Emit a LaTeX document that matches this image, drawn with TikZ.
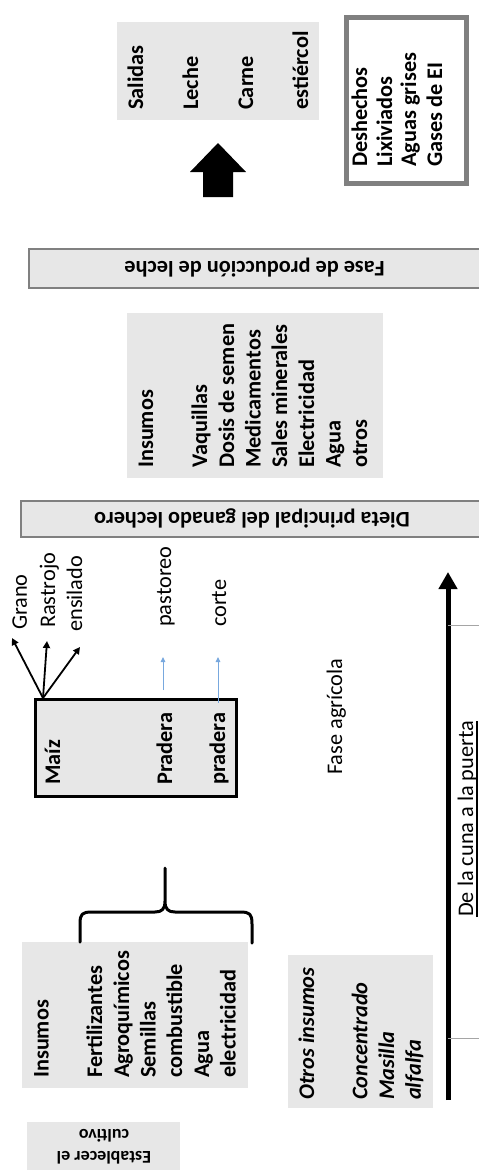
\documentclass[tikz,border=0pt]{standalone}
\usepackage{fontspec}
\setmainfont{Carlito}
\usetikzlibrary{arrows.meta}
\definecolor{boxgray}{RGB}{231,231,231}
\definecolor{edgegray}{RGB}{128,128,128}
\definecolor{paleblue}{RGB}{120,168,222}
\definecolor{thingray}{RGB}{165,165,165}
\begin{document}
\begin{tikzpicture}[x=1pt,y=-1pt,
  graybox/.style={fill=boxgray, draw=none, inner sep=0pt, anchor=north west},
  bandbox/.style={fill=boxgray, draw=edgegray, line width=1.5pt, inner sep=0pt, anchor=north west},
  maizbox/.style={fill=boxgray, draw=black, line width=3pt, inner sep=0pt, anchor=north west},
  wastebox/.style={fill=white, draw=edgegray, line width=5pt, inner sep=0pt, anchor=north west},
  vt/.style={inner sep=0pt, rotate=90, anchor=base west, font=\fontsize{22.3}{26.7}\selectfont},
  vtb/.style={vt, font=\fontsize{22.3}{26.7}\selectfont\bfseries},
  vtbi/.style={vt, font=\fontsize{22.3}{26.7}\selectfont\bfseries\itshape},
  ut/.style={inner sep=0pt, rotate=180, anchor=center, font=\fontsize{22.3}{26.7}\selectfont\bfseries},
  fanarrow/.style={draw=black, line width=1.8pt, -{Triangle[length=7pt,width=7pt]}},
  bluearrow/.style={draw=paleblue, line width=1pt, -{Triangle[length=5pt,width=4.5pt]}},
  axisarrow/.style={draw=black, line width=5pt, -{Triangle[length=17pt,width=18pt]}},
  tickline/.style={draw=thingray, line width=1pt},
  bracestyle/.style={draw=black, line width=3pt, line join=round, line cap=round},
]
\useasboundingbox (0,0) rectangle (479,1170);

% ---------- boxes ----------
\node[graybox, minimum width=202pt, minimum height=98pt] (salbox) at (117,22) {};
\node[wastebox, minimum width=120pt, minimum height=165.5pt] (wastbox) at (344,15) {};
\node[bandbox, minimum width=453pt, minimum height=39pt] (fasebox) at (28,248) {};
\node[graybox, minimum width=256pt, minimum height=165pt] (insbox2) at (127,313) {};
\node[bandbox, minimum width=465pt, minimum height=36pt] (dietabox) at (20,500) {};
\node[maizbox, minimum width=201.5pt, minimum height=97pt] (maiz) at (33.5,698) {};
\node[graybox, minimum width=226pt, minimum height=146pt] (insbox1) at (22,942) {};
\node[graybox, minimum width=145pt, minimum height=153pt] (otrosbox) at (288,955) {};
\node[graybox, minimum width=153pt, minimum height=52pt] (estbox) at (27,1122) {};

% ---------- outputs ----------
\node[vtb] (salidas) at (143,110) {Salidas};
\node[vtb] (leche) at (198,110) {Leche};
\node[vtb] (carne) at (253,110) {Carne};
\node[vtb] (estiercol) at (308,110) {estiércol};

\node[vtb] (desh) at (367,167) {Deshechos};
\node[vtb] (lixi) at (392,167) {Lixiviados};
\node[vtb] (aguasg) at (416,167) {Aguas grises};
\node[vtb] (gases) at (442,167) {Gases de EI};

\fill[black] (218,143) -- (246,172) -- (233,172) -- (233,197) -- (203,197) -- (203,172) -- (190,172) -- cycle;

% ---------- band labels ----------
\node[ut] (fase) at (254.5,268) {Fase de producción de leche};
\node[ut] (dieta) at (252,518) {Dieta principal del ganado lechero};

% ---------- inputs of the milk phase ----------
\node[vtb] (ins2) at (153,468) {Insumos};
\node[vtb] (vaq) at (207,468) {Vaquillas};
\node[vtb] (dosis) at (234,468) {Dosis de semen};
\node[vtb] (medic) at (260.5,468) {Medicamentos};
\node[vtb] (sales) at (287,468) {Sales minerales};
\node[vtb] (elec2) at (314,468) {Electricidad};
\node[vtb] (agua2) at (340.5,468) {Agua};
\node[vtb] (otros2) at (367,468) {otros};

% ---------- crops ----------
\node[vtb] (maiztxt) at (60,785) {Maíz};
\node[vtb] (prad1) at (172,785) {Pradera};
\node[vtb] (prad2) at (225,785) {pradera};

\node[vt] (grano) at (27,630) {Grano};
\node[vt] (rastrojo) at (55,628) {Rastrojo};
\node[vt] (ensilado) at (82,632) {ensilado};
\node[vt] (pastoreo) at (171,627) {pastoreo};
\node[vt] (corte) at (226,627) {corte};

\coordinate (fan) at ([xshift=9.5pt]maiz.north west);
\coordinate (tipg) at (12,638);
\coordinate (tipr) at (47,641);
\coordinate (tipe) at (80,647);
\draw[fanarrow] (fan) -- (tipg);
\draw[fanarrow] (fan) -- (tipr);
\draw[fanarrow] (fan) -- (tipe);

\coordinate (pa0) at (163,690);
\coordinate (pa1) at (163,657);
\coordinate (pb0) at (218,703);
\coordinate (pb1) at (218,657);
\draw[bluearrow] (pa0) -- (pa1);
\draw[bluearrow] (pb0) -- (pb1);

\node[vt] (faseagr) at (342,775) {Fase agrícola};

% ---------- inputs of the crop phase ----------
\node[vtb] (ins1) at (48.5,1078) {Insumos};
\node[vtb] (fert) at (102,1078) {Fertilizantes};
\node[vtb] (agro) at (129,1078) {Agroquímicos};
\node[vtb] (semi) at (155.5,1078) {Semillas};
\node[vtb] (comb) at (182,1078) {combustible};
\node[vtb] (agua1) at (209,1078) {Agua};
\node[vtb] (elec1) at (235.5,1078) {electricidad};

\draw[bracestyle] (80,942) -- (80,924) .. controls (80,914) and (82,912) .. (92,912)
  -- (155,912) .. controls (162,912) and (165,909) .. (165,901) -- (165,868)
  (165,901) .. controls (165,909) and (168,912) .. (175,912)
  -- (240,912) .. controls (250,912) and (252,914) .. (252,924) -- (252,943);

\node[vtbi] (otros) at (314,1100) {Otros insumos};
\node[vtbi] (conc) at (367.4,1100) {Concentrado};
\node[vtbi] (masilla) at (394,1100) {Masilla};
\node[vtbi] (alfalfa) at (420.8,1100) {alfalfa};

\node[ut, align=center, font=\fontsize{18}{22}\selectfont\bfseries] (estab) at (104,1147) {Establecer el\\cultivo};

% ---------- system boundary axis ----------
\coordinate (axb) at (448,1100);
\coordinate (axt) at (448,572);
\draw[axisarrow] (axb) -- (axt);
\coordinate (t1a) at (448,625);
\coordinate (t1b) at (481,625);
\coordinate (t2a) at (448,1038);
\coordinate (t2b) at (481,1038);
\draw[tickline] (t1a) -- (t1b);
\draw[tickline] (t2a) -- (t2b);

\node[vt] (cuna) at (473,917) {De la cuna a la puerta};
\draw[line width=1.2pt] ([xshift=4pt]cuna.base west) -- ([xshift=4pt]cuna.base east);
\end{tikzpicture}
\end{document}
